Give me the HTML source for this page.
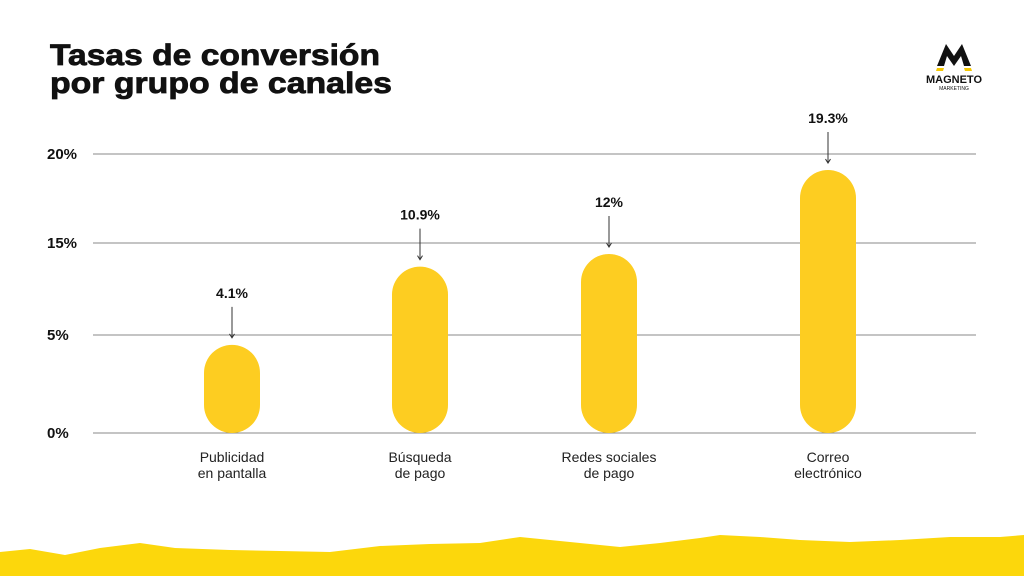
<!DOCTYPE html>
<html><head><meta charset="utf-8"><style>
body{margin:0;width:1024px;height:576px;overflow:hidden;background:#fff;font-family:"Liberation Sans",sans-serif;}
</style></head><body>
<svg width="1024" height="576" xmlns="http://www.w3.org/2000/svg">
<text x="50" y="65" font-size="30" font-weight="bold" fill="#111" textLength="330" lengthAdjust="spacingAndGlyphs" stroke="#111" stroke-width="0.8">Tasas de conversión</text>
<text x="50" y="93" font-size="30" font-weight="bold" fill="#111" textLength="342" lengthAdjust="spacingAndGlyphs" stroke="#111" stroke-width="0.8">por grupo de canales</text>
<g>
<polygon points="937,66 946,44 954,56 962,44 971,66 964,66 961,56 954,66 947,56 944,66" fill="#111"/>
<polygon points="937,68 944,68 943,71 936,71" fill="#f5c800"/>
<polygon points="964,68 971,68 972,71 965,71" fill="#f5c800"/>
<text x="954" y="83" font-size="11" font-weight="bold" text-anchor="middle" fill="#111">MAGNETO</text>
<text x="954" y="90" font-size="5" text-anchor="middle" fill="#111">MARKETING</text>
</g>
<g id="grid"></g><g id="bars"></g>
<path fill="#fcd70c" d="M0,552 L30,549 L65,555 L100,548 L140,543 L175,548 L230,550 L280,551 L330,552 L380,546 L430,544 L480,543 L520,537 L560,541 L600,545 L620,547 L660,543 L700,538 L720,535 L760,537 L800,540 L850,542 L900,540 L950,537 L1000,537 L1024,535 L1024,576 L0,576 Z"/>
</svg>
<script>
const categories=[["Publicidad","en pantalla"],["Búsqueda","de pago"],["Redes sociales","de pago"],["Correo","electrónico"]];
const values=[4.1,10.9,12,19.3];
const valueLabels=["4.1%","10.9%","12%","19.3%"];
const tickLabels=["0%","5%","15%","20%"];
const NS="http://www.w3.org/2000/svg";
const base=433;
function yScale(v){return base-(41+11.5*v);}
const gridY=[433,335,243,154];
function xCenter(i){return [232,420,609,828][i];}
function mk(t,a,p){const e=document.createElementNS(NS,t);for(const k in a)e.setAttribute(k,a[k]);p.appendChild(e);return e;}
const grid=document.getElementById('grid'),bars=document.getElementById('bars');
tickLabels.forEach((t,i)=>{
 const l=mk('line',{x1:93,x2:976,y1:gridY[i],y2:gridY[i],stroke:'#888','stroke-width':1},grid);
 
 
 const tx=mk('text',{x:47,y:gridY[i]+5,'font-size':15,'font-weight':'bold',fill:'#111'},grid);
 tx.textContent=t;
 
 
});
values.forEach((v,i)=>{
 const cx=xCenter(i),top=yScale(v),w=56;
 const r=mk('rect',{x:cx-w/2,y:top,width:w,height:base-top,rx:28,ry:28,fill:'#fdcd21'},bars);
 
 
 const a=mk('line',{x1:cx,x2:cx,y1:top-38,y2:top-8,stroke:'#333','stroke-width':1},bars);
 
 
 const h=mk('path',{d:`M${cx-2.5},${top-11} L${cx},${top-7} L${cx+2.5},${top-11}`,fill:'none',stroke:'#333','stroke-width':1},bars);
 
 
 const vt=mk('text',{x:cx,y:top-47,'font-size':14,'font-weight':'bold','text-anchor':'middle',fill:'#111'},bars);
 vt.textContent=valueLabels[i];
 
 
 categories[i].forEach((s,j)=>{
  const ct=mk('text',{x:cx,y:462+j*16,'font-size':14,'text-anchor':'middle',fill:'#222'},bars);
  ct.textContent=s;
  
  
 });
});
</script>
</body></html>
